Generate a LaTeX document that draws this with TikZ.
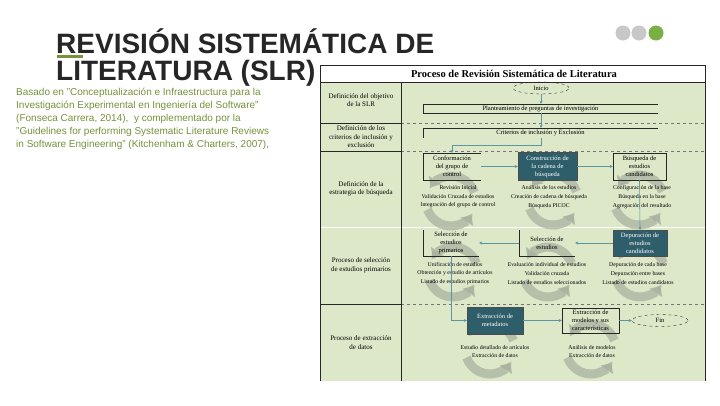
\documentclass[tikz,border=0pt]{standalone}
\usepackage{fontspec}
\setmainfont{Liberation Sans}
\newfontfamily\diagfont{Liberation Serif}
\usepackage{tikz}
\usetikzlibrary{arrows.meta,positioning,calc,shapes.geometric}
\usepackage{xcolor}
\definecolor{slidegray}{HTML}{262626}
\definecolor{slidegreen}{HTML}{76923C}
\definecolor{dotgray}{HTML}{C8C8C8}
\definecolor{dotgreen}{HTML}{78B043}
\definecolor{panel}{HTML}{DDE8C9}
\definecolor{boxteal}{HTML}{2E5E69}
\definecolor{linkteal}{HTML}{5B97A0}
\definecolor{cycgray}{HTML}{A9B2A0}

\begin{document}
\begin{tikzpicture}[x=1pt,y=-1pt,
    lbl/.style={font=\diagfont\fontsize{7}{8.5}\selectfont,align=center,inner sep=0pt},
    desc/.style={font=\diagfont\fontsize{5.8}{8.6}\selectfont,align=center,inner sep=0pt},
    obox/.style={font=\diagfont\fontsize{6.5}{8}\selectfont,align=center,inner sep=0pt},
    fbox/.style={obox,draw=black!85,line width=0.5pt},
    dbox/.style={obox,fill=boxteal,draw=black!70,text=white},
    term/.style={ellipse,draw=black!80,dashed,obox,minimum width=56pt,minimum height=12pt},
    link/.style={->,linkteal,line width=0.6pt},
    blink/.style={->,linkteal,line width=1.4pt},
    bodyline/.style={anchor=base west,inner sep=0pt,text=slidegreen,font=\fontsize{10}{12}\selectfont},
    >={Stealth[length=3pt,width=3pt]}]
\useasboundingbox (0,0) rectangle (720,405);
\fill[white] (0,0) rectangle (720,405);

% slide title and text
\fill[slidegreen] (57,55) rectangle (83,57.5);
\node[anchor=base west,inner sep=0pt,text=slidegray,font=\bfseries\fontsize{28}{28}\selectfont] (title1) at (56,53) {REVISIÓN SISTEMÁTICA DE};
\node[anchor=base west,inner sep=0pt,text=slidegray,font=\bfseries\fontsize{28}{28}\selectfont] (title2) at (56,80) {LITERATURA (SLR)};
\node[bodyline] (body1) at (16,95.5) {Basado en "Conceptualización e Infraestructura para la};
\node[bodyline] (body2) at (16,108.5) {Investigación Experimental en Ingeniería del Software"};
\node[bodyline] (body3) at (16,121.5) {(Fonseca Carrera, 2014),\ \ y complementado por la};
\node[bodyline] (body4) at (16,134) {"Guidelines for performing Systematic Literature Reviews};
\node[bodyline] (body5) at (16,147) {in Software Engineering" (Kitchenham \& Charters, 2007),};

\fill[dotgray] (623,33) circle[radius=7.5];
\fill[dotgray] (639,33) circle[radius=7.5];
\fill[dotgreen] (656,33) circle[radius=7.5];

% panel
\fill[panel] (320,65) rectangle (705,381);
\fill[white] (320,65) rectangle (705,82);
\node[font=\diagfont\bfseries\fontsize{10.5}{12}\selectfont] (dtitle) at (514,74) {Proceso de Revisión Sistemática de Literatura};
\foreach \y in {123,151,304}
    \draw[dashed,black!55] (401,\y) -- (705,\y);
\draw[white,line width=1pt] (320,227) -- (705,227);
\foreach \y in {123,151,304}
    \draw[black!85,line width=0.6pt] (320,\y) -- (401,\y);
\draw[black!85,line width=0.6pt] (320,82) -- (705,82);
\draw[black!85,line width=0.6pt] (401,82) -- (401,381);
\draw[black!85,line width=0.8pt] (320,381) -- (320,65) -- (705,65) -- (705,381);

\node[lbl] (row1) at (361,100) {Definición del objetivo\\de la SLR};
\node[lbl] (row2) at (361,137) {Definición de los\\criterios de inclusión y\\exclusión};
\node[lbl] (row3) at (361,189) {Definición de la\\estrategia de búsqueda};
\node[lbl] (row4) at (361,265.5) {Proceso de selección\\de estudios primarios};
\node[lbl] (row5) at (361,342.5) {Proceso de extracción\\de datos};

% cycle icons behind the activities
\foreach \cx/\cy in {451/201,553/200,639/200,453/272,548/272,640/272,490/349,591/349}{
    \draw[cycgray,opacity=0.75,line width=9pt,-{Triangle[length=8pt,width=15pt]}] (\cx,\cy) ++(160:25) arc[start angle=160,end angle=35,radius=25];
    \draw[cycgray,opacity=0.75,line width=9pt,-{Triangle[length=8pt,width=15pt]}] (\cx,\cy) ++(-20:25) arc[start angle=-20,end angle=-145,radius=25];
}

\node[term] (inicio) at (541,88) {Inicio};
\node[obox,minimum width=235pt,minimum height=9pt] (plan) at (540.5,108.5) {Planteamiento de preguntas de investigación};
\node[obox,minimum width=235pt,minimum height=10pt] (crit) at (540.5,133) {Criterios de inclusión y Exclusión};
\node[obox,minimum width=57pt,minimum height=27pt] (conf) at (452,166.5) {Conformación\\del grupo de\\control};
\node[dbox,minimum width=59pt,minimum height=28pt] (cons) at (547.5,166.5) {Construcción de\\la cadena de\\búsqueda};
\node[fbox,minimum width=53pt,minimum height=27pt] (busq) at (639.5,166.5) {Búsqueda de\\estudios\\candidatos};
\node[dbox,minimum width=54pt,minimum height=26pt] (depu) at (640,243) {Depuración de\\estudios\\candidatos};
\node[obox,minimum width=56pt,minimum height=26pt] (sele) at (547,243) {Selección de\\estudios};
\node[obox,minimum width=56pt,minimum height=26pt] (selp) at (451,243) {Selección de\\estudios\\primarios};
\node[dbox,minimum width=56pt,minimum height=27pt] (extm) at (495,320.5) {Extracción de\\metadatos};
\node[fbox,minimum width=57pt,minimum height=25pt] (extd) at (590.5,320.5) {Extracción de\\modelos y sus\\características};
\node[term] (fin) at (660,320.5) {Fin};

\draw[black!85,line width=0.6pt] (plan.north east) -- (plan.north west) -- (plan.south west) -- (plan.south east);
\draw[black!85,line width=0.6pt] (crit.north east) -- (crit.north west) -- (crit.south west);
\draw[black!85,line width=0.5pt] (conf.north east) -- (conf.north west) -- (conf.south west) -- (conf.south east);
\draw[black!85,line width=0.5pt] (sele.north west) -- (sele.south west) -- (sele.south east);
\draw[black!85,line width=0.5pt] (selp.north west) -- (selp.south west) -- (selp.south east);

\node[desc] (dconf) at (458,197) {Revisión Inicial\\Validación Cruzada de estudios\\Integración del grupo de control};
\node[desc] (dcons) at (549,197) {Análisis de los estudios\\Creación de cadena de búsqueda\\Búsqueda PICOC};
\node[desc] (dbusq) at (642,197) {Configuración de la base\\Búsqueda en la base\\Agregación del resultado};
\node[desc] (dselp) at (455,273.5) {Unificación de estudios\\Obtención y estudio de artículos\\Listado de estudios primarios};
\node[desc] (dsele) at (547,273.5) {Evaluación individual de estudios\\Validación cruzada\\Listado de estudios seleccionados};
\node[desc] (ddepu) at (638,273.5) {Depuración de cada base\\Depuración entre bases\\Listado de estudios candidatos};
\node[desc] (dextm) at (495,351.5) {Estudio detallado de artículos\\Extracción de datos};
\node[desc] (dextd) at (592,351.5) {Análisis de modelos\\Extracción de datos};

% flow
\coordinate (turn) at (452,145);
\draw[link] (inicio.south) -- (inicio.south |- plan.north);
\draw[link] (plan.south -| inicio) -- (crit.north -| inicio);
\draw[link] (crit.south -| inicio) |- (turn) -- (conf.north);
\draw[blink] (conf.east) -- (cons.west);
\draw[blink] (cons.east) -- (busq.west);
\draw[link] (busq.south) -- (depu.north);
\draw[link] (depu.west) -- (sele.east);
\draw[link] (sele.west) -- (selp.east);
\draw[link] (selp.south) |- (extm.west);
\draw[blink] (extm.east) -- (extd.west);
\draw[link] (extd.east) -- (fin.west);
\end{tikzpicture}
\end{document}
